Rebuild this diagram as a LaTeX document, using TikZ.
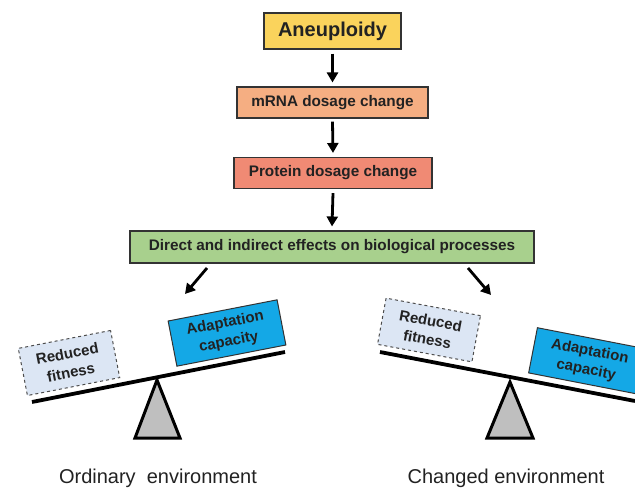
\documentclass[tikz,border=0pt]{standalone}
\usepackage{fontspec}
\setmainfont{Liberation Sans}
\usetikzlibrary{arrows.meta}
\definecolor{cyel}{HTML}{FAD35C}
\definecolor{cmrna}{HTML}{F5AE82}
\definecolor{cprot}{HTML}{F08A74}
\definecolor{cgreen}{HTML}{A8D08D}
\definecolor{cpale}{HTML}{DCE6F4}
\definecolor{cblue}{HTML}{14A8E6}
\definecolor{ctxt}{HTML}{222222}
\tikzset{
  flowbox/.style={draw=black!80, line width=1.1pt, text=ctxt, font=\bfseries\fontsize{15.3}{17}\selectfont, inner sep=0pt, minimum height=31pt},
  flowarrow/.style={line width=2.8pt, -{Triangle[width=11pt,length=10pt]}},
  weightbox/.style={line width=1pt, text=ctxt, font=\bfseries\fontsize{15}{19}\selectfont, align=center, inner sep=0pt},
  beam/.style={line width=3.8pt, line cap=butt},
  fulcrum/.style={draw=black, line width=3pt, fill=black!25, line join=miter},
  envlabel/.style={text=ctxt, font=\fontsize{20}{22}\selectfont}
}
\begin{document}
\begin{tikzpicture}[x=1pt,y=-1pt]
\useasboundingbox (0,0) rectangle (635,490);
% flow boxes
\node[flowbox, fill=cyel, minimum width=137pt, minimum height=36pt, font=\bfseries\fontsize{20}{22}\selectfont] (an) at (332.5,31) {Aneuploidy};
\node[flowbox, fill=cmrna, minimum width=191pt] (mr) at (332.5,102.5) {mRNA dosage change};
\node[flowbox, fill=cprot, minimum width=198pt] (pr) at (333,173) {Protein dosage change};
\node[flowbox, fill=cgreen, minimum width=404pt, minimum height=32pt] (ef) at (332,247) {Direct and indirect effects on biological processes};
% vertical arrows
\draw[flowarrow] ([yshift=-4pt]an.south) -- ([yshift=4pt]mr.north);
\draw[flowarrow] ([yshift=-3pt]mr.south) -- ([yshift=4pt]pr.north);
\draw[flowarrow] ([yshift=-4pt]pr.south) -- ([yshift=4pt]ef.north);
% diagonal arrows
\coordinate (la1) at (207,268);
\coordinate (la2) at (185,294);
\coordinate (ra1) at (468,268);
\coordinate (ra2) at (491,295);
\draw[flowarrow] (la1) -- (la2);
\draw[flowarrow] (ra1) -- (ra2);
% left seesaw
\node[weightbox, draw=black!70, dashed, fill=cpale, minimum width=94pt, minimum height=48pt, rotate=11] (lrf) at (69,363) {Reduced\\fitness};
\node[weightbox, draw=black!80, fill=cblue, minimum width=111pt, minimum height=46pt, rotate=11] (lac) at (227,333) {Adaptation\\capacity};
\coordinate (lb1) at (32,402);
\coordinate (lb2) at (285,352);
\draw[beam] (lb1) -- (lb2);
\coordinate (lt) at (157,380);
\coordinate (ltl) at (135,438);
\coordinate (ltr) at (180,438);
\draw[fulcrum] (lt) -- (ltr) -- (ltl) -- cycle;
\node[envlabel] (lenv) at (158,478) {Ordinary\ \ environment};
% right seesaw
\node[weightbox, draw=black!70, dashed, fill=cpale, minimum width=96pt, minimum height=47pt, rotate=-10.5] (rrf) at (429,330) {Reduced\\fitness};
\node[weightbox, draw=black!80, fill=cblue, minimum width=112pt, minimum height=46pt, rotate=-11] (rac) at (588,361) {Adaptation\\capacity};
\coordinate (rb1) at (380,352);
\coordinate (rb2) at (635,401);
\draw[beam] (rb1) -- (rb2);
\coordinate (rt) at (510,382);
\coordinate (rtl) at (487,438);
\coordinate (rtr) at (533,438);
\draw[fulcrum] (rt) -- (rtr) -- (rtl) -- cycle;
\node[envlabel] (renv) at (506,478) {Changed environment};
\end{tikzpicture}
\end{document}
